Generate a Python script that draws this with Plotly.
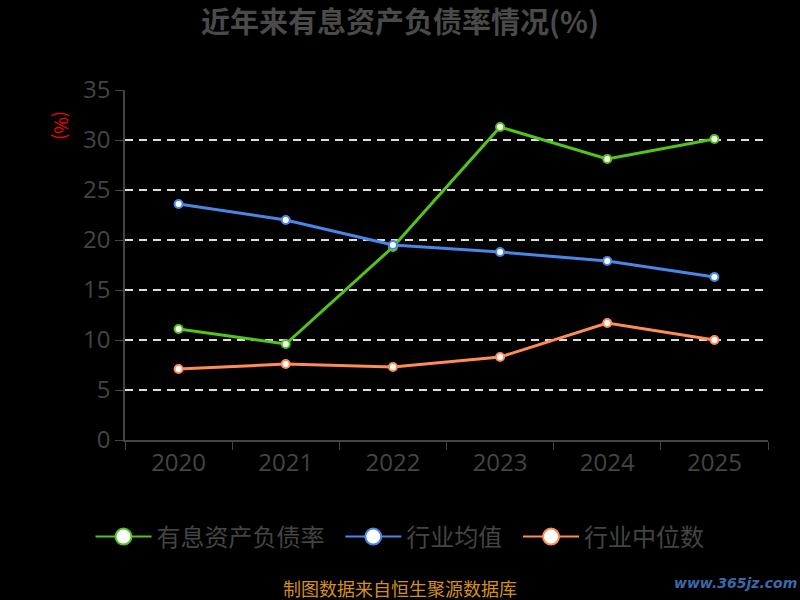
import plotly.graph_objects as go

years = ["2020", "2021", "2022", "2023", "2024", "2025"]
debt_ratio = [11.1, 9.6, 19.3, 31.3, 28.1, 30.1]
industry_mean = [23.6, 22.0, 19.5, 18.8, 17.9, 16.3]
industry_median = [7.1, 7.6, 7.3, 8.3, 11.7, 10.0]
series_names = ["有息资产负债率", "行业均值", "行业中位数"]
colors = ["#52c41a", "#4a86e8", "#ff8c55"]
y_ticks = [0, 5, 10, 15, 20, 25, 30, 35]

FONT = "Open Sans, Noto Sans CJK SC, sans-serif"
PL, PR, PT, PB = 125, 768, 90, 440


def px(x):
    return (x - PL) / (PR - PL)


def py(y):
    return (PB - y) / (PB - PT)


fig = go.Figure()
for name, vals, c in zip(series_names, [debt_ratio, industry_mean, industry_median], colors):
    fig.add_trace(go.Scatter(
        x=years, y=vals, mode="lines+markers", name=name, showlegend=False,
        line=dict(color=c, width=3),
        marker=dict(size=8, color="white", line=dict(color=c, width=2)),
    ))
for i, (name, c) in enumerate(zip(series_names, colors)):
    label = name + ("\u00a0\u00a0" if i < len(series_names) - 1 else "")
    fig.add_trace(go.Scatter(
        x=[None], y=[None], mode="lines+markers", name=label,
        line=dict(color=c, width=2),
        marker=dict(size=22, color="white", line=dict(color=c, width=2)),
    ))

fig.update_layout(
    width=800, height=600,
    paper_bgcolor="black", plot_bgcolor="black",
    margin=dict(l=PL, r=800 - PR, t=PT, b=600 - PB),
    font=dict(family=FONT, color="#444444"),
    title=dict(text="<b>近年来有息资产负债率情况(%)</b>", x=0.5, xanchor="center",
               y=1 - 23 / 600, yanchor="middle",
               font=dict(size=29, color="#4a4a4a", family="Noto Sans CJK SC")),
    xaxis=dict(
        type="category", range=[-0.5, len(years) - 0.5],
        showgrid=False, showline=True, linecolor="#444444", linewidth=1.5,
        ticks="outside", tickson="boundaries", ticklen=8, tickcolor="#444444",
        tickfont=dict(size=24, color="#444444"), zeroline=False,
    ),
    yaxis=dict(
        range=[0, 35], tickvals=y_ticks, showline=True, linecolor="#444444", linewidth=1.5,
        ticks="outside", ticklen=8, tickcolor="#444444",
        tickfont=dict(size=24, color="#444444"),
        showgrid=True, gridcolor="#dddddd", griddash="8px,6px", gridwidth=2,
        zeroline=False,
    ),
    legend=dict(orientation="h", x=0.5, xanchor="center", xref="container",
                y=1 - 537 / 600, yanchor="middle", yref="container",
                font=dict(size=24, color="#444444", family="Noto Sans CJK SC"),
                bgcolor="rgba(0,0,0,0)", itemwidth=56),
    annotations=[
        dict(text="(%)", xref="paper", yref="paper", x=px(62), y=py(125), showarrow=False,
             xanchor="center", yanchor="middle",
             textangle=90, font=dict(size=18, color="red", family="Noto Sans CJK SC")),
        dict(text="制图数据来自恒生聚源数据库", xref="paper", yref="paper", x=px(400),
             y=py(588), xanchor="center", yanchor="middle", showarrow=False,
             font=dict(size=18, color="#d4901a", family="Noto Sans CJK SC")),
        dict(text="<b><i>www.365jz.com</i></b>", xref="paper", yref="paper", x=px(735),
             y=py(583), xanchor="center", yanchor="middle", showarrow=False,
             font=dict(size=14, color="#3a6aaa", family="DejaVu Sans")),
    ],
)

fig.write_html("out.html", config={"displayModeBar": False},
               post_script="document.body.style.margin='0';document.body.style.background='black';")
